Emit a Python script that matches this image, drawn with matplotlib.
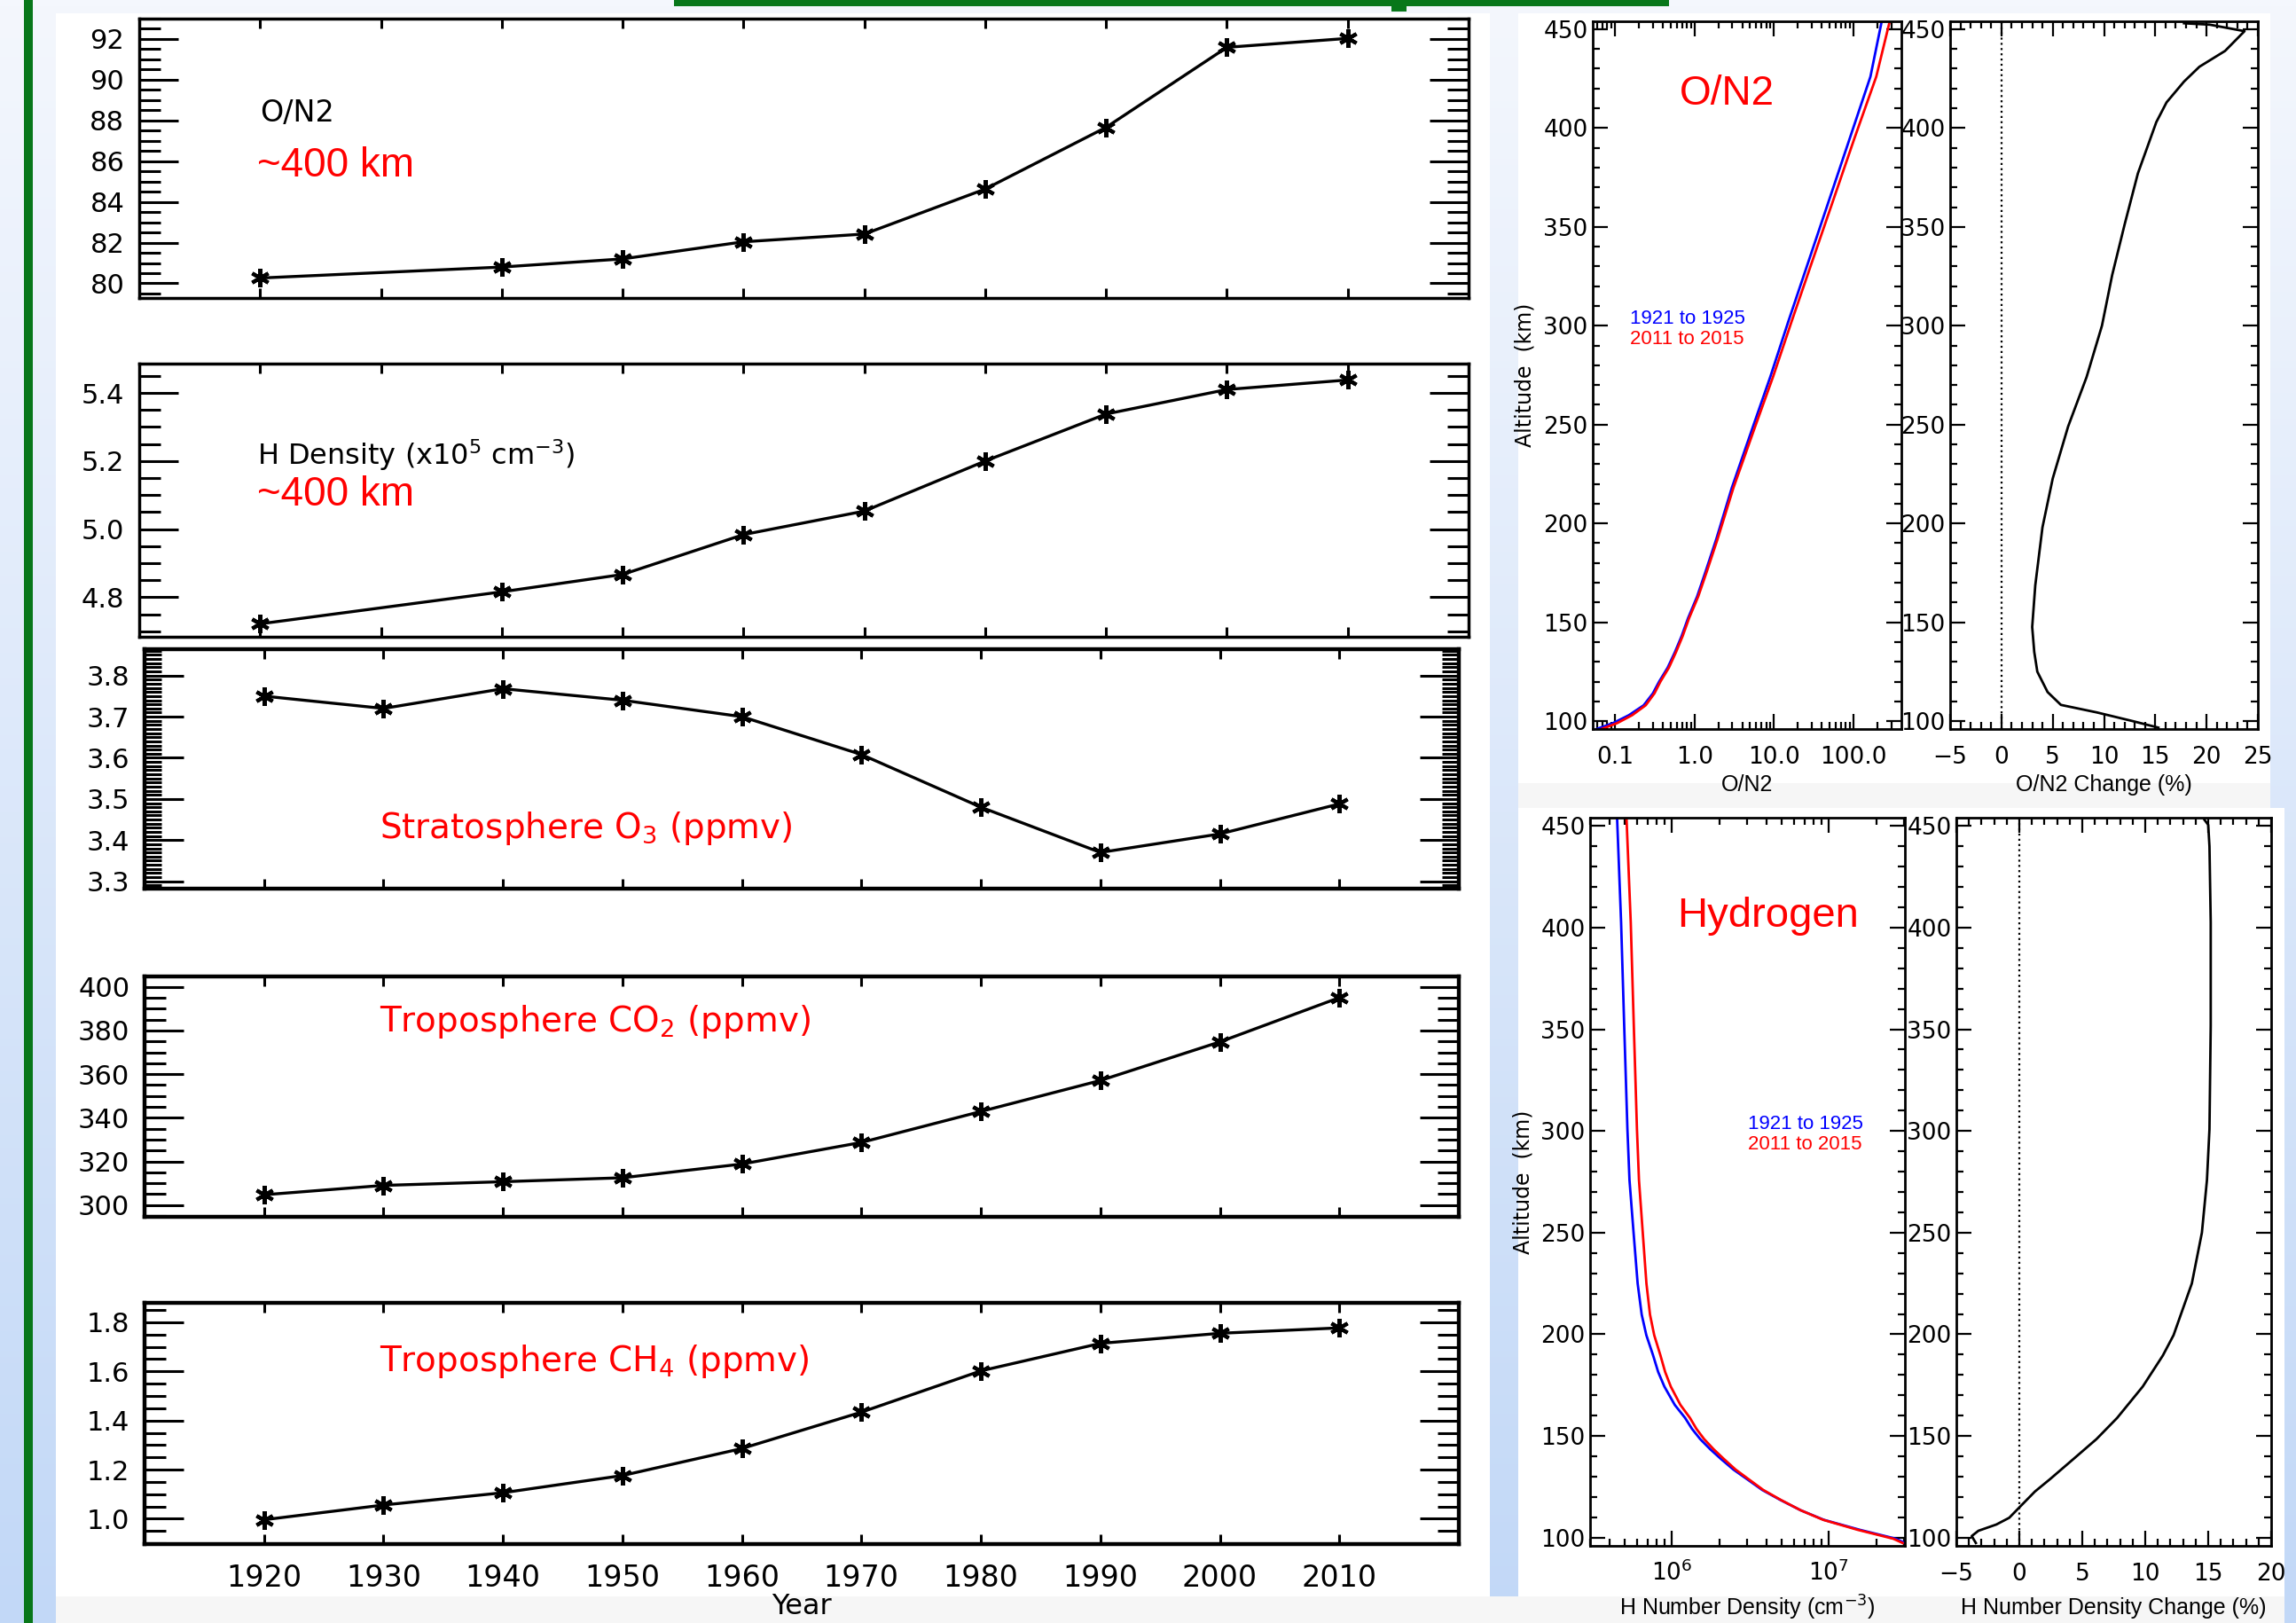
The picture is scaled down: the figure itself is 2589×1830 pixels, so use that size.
import numpy as np
import matplotlib
matplotlib.use('Agg')
import matplotlib.pyplot as plt
from matplotlib.colors import LinearSegmentedColormap
from matplotlib.patches import Rectangle
from matplotlib.ticker import (MultipleLocator, LogLocator, NullFormatter,
                               FuncFormatter, FormatStrFormatter)

# ---------------- data ----------------
years = [1920, 1930, 1940, 1950, 1960, 1970, 1980, 1990, 2000, 2010]
years_thermo = [1920, 1940, 1950, 1960, 1970, 1980, 1990, 2000, 2010]

on2_400km = [80.26, 80.80, 81.20, 82.04, 82.42, 84.63, 87.66, 91.59, 92.03]
h_400km = [4.722, 4.816, 4.867, 4.984, 5.053, 5.200, 5.338, 5.410, 5.438]
o3_strat = [3.750, 3.720, 3.768, 3.740, 3.700, 3.608, 3.480, 3.370, 3.415, 3.488]
co2_trop = [304.7, 309.0, 310.7, 312.5, 318.8, 328.7, 342.9, 357.1, 374.8, 395.1]
ch4_trop = [0.996, 1.056, 1.106, 1.176, 1.286, 1.434, 1.602, 1.714, 1.755, 1.777]

# O/N2 altitude profiles
on2_alt = [96, 99, 103, 108, 114, 120, 127, 135, 143, 152, 163, 176, 192, 218,
           248, 274, 302, 333, 364, 395, 426, 454]
on2_early = [0.059, 0.095, 0.15, 0.23, 0.30, 0.36, 0.46, 0.57, 0.69, 0.83, 1.08,
             1.39, 1.88, 2.95, 5.34, 8.96, 15.1, 27.4, 49.7, 90.0, 163.0, 226.0]
on2_late = [0.068, 0.107, 0.165, 0.244, 0.314, 0.374, 0.477, 0.588, 0.711, 0.855,
            1.115, 1.44, 1.95, 3.09, 5.68, 9.70, 16.6, 30.5, 56.1, 103.0, 193.0,
            285.0]

on2_chg_alt = [96.7, 100, 104.4, 108.2, 114.7, 125, 135, 147.6, 168.7, 198, 222.7,
               249, 274, 300, 325.7, 351, 377, 403, 413, 423.5, 431, 439, 449,
               452.3, 453]
on2_chg = [15.3, 12.8, 9.3, 5.8, 4.5, 3.5, 3.2, 3.0, 3.3, 4.0, 5.0, 6.5, 8.3, 9.8,
           10.8, 12.0, 13.3, 15.1, 16.1, 17.8, 19.3, 21.8, 23.7, 20.3, 17.8]

# Hydrogen altitude profiles
h_alt = [97.4, 99.5, 103.9, 108.8, 113.5, 118.6, 123.5, 128.9, 133.5, 138.7,
         143.5, 148.5, 153.5, 158.9, 165.3, 174.3, 181.5, 189.6, 199.6, 209.7,
         225, 250, 275.8, 300.8, 351.7, 402.5, 453.9]
h_early = [3.05e7, 2.67e7, 1.57e7, 9.27e6, 6.60e6, 4.89e6, 3.75e6, 2.99e6, 2.46e6,
           2.05e6, 1.75e6, 1.51e6, 1.34e6, 1.21e6, 1.04e6, 8.93e5, 8.15e5, 7.57e5,
           6.85e5, 6.40e5, 6.03e5, 5.68e5, 5.35e5, 5.19e5, 4.95e5, 4.73e5, 4.46e5]
h_late = [2.95e7, 2.57e7, 1.52e7, 9.18e6, 6.60e6, 4.93e6, 3.81e6, 3.06e6, 2.54e6,
          2.14e6, 1.84e6, 1.60e6, 1.43e6, 1.30e6, 1.13e6, 9.81e5, 9.03e5, 8.43e5,
          7.69e5, 7.23e5, 6.86e5, 6.50e5, 6.15e5, 5.97e5, 5.70e5, 5.45e5, 5.12e5]

h_chg_alt = [97.4, 100.8, 103.4, 106.5, 109.8, 115, 122.7, 128.9, 138.7, 148.5,
             158.9, 174.3, 189.6, 199.6, 225, 250, 275.8, 300.8, 351.7, 402.5,
             440, 450.5, 453]
h_chg = [-3.45, -3.78, -3.25, -1.82, -0.8, 0.02, 1.24, 2.46, 4.3, 6.13, 7.77, 9.8,
         11.4, 12.25, 13.7, 14.5, 14.9, 15.1, 15.2, 15.2, 15.1, 15.0, 14.7]

# ---------------- figure ----------------
W, H = 2589, 1830
NARROW = ['Liberation Sans Narrow', 'Liberation Sans']
fig = plt.figure(figsize=(W / 100, H / 100), dpi=100)


def px_box(x0, y0, x1, y1):
    # pixel box (top-left origin) -> figure fraction
    return [x0 / W, 1 - y1 / H, (x1 - x0) / W, (y1 - y0) / H]


# slide background
bg = fig.add_axes([0, 0, 1, 1], zorder=-1)
bg.axis('off')
cmap = LinearSegmentedColormap.from_list('slide', ['#f4f7fd', '#c2d8f7'])
bg.imshow(np.linspace(0, 1, 256)[:, None], aspect='auto', cmap=cmap,
          extent=[0, W, H, 0])
bg.set_xlim(0, W)
bg.set_ylim(H, 0)
for (x0, y0, x1, y1, c) in [(63, 15, 1680, 1800, 'white'),
                            (1712, 15, 2560, 883, 'white'),
                            (1712, 883, 2560, 911, '#f6f6f6'),
                            (1712, 911, 2576, 1800, 'white'),
                            (63, 1800, 2576, 1830, '#f6f6f6'),
                            (27, 0, 37, 1830, '#08771a'),
                            (760, 0, 1882, 7, '#08771a'),
                            (1569, 0, 1586, 13, '#08771a')]:
    bg.add_patch(Rectangle((x0, y0), x1 - x0, y1 - y0, color=c, lw=0))


def trend_panel(rect, xs, ys, ylim, major, minor, fmt, frame_lw, minor_len=17):
    ax = fig.add_axes(px_box(*rect))
    ax.plot(xs, ys, color='black', lw=2.4, marker=(6, 2, 0), ms=15, mew=3)
    ax.set_xlim(1910, 2020)
    ax.set_ylim(*ylim)
    ax.set_xticks(years)
    ax.yaxis.set_major_locator(MultipleLocator(major))
    ax.yaxis.set_minor_locator(MultipleLocator(minor))
    ax.yaxis.set_major_formatter(FormatStrFormatter(fmt))
    ax.tick_params(which='both', direction='in', top=True, right=True,
                   labelbottom=False, labelsize=22, width=2.2, pad=12)
    ax.tick_params(axis='y', which='major', length=32)
    ax.tick_params(axis='y', which='minor', length=minor_len)
    ax.tick_params(axis='x', which='major', length=8)
    for s in ax.spines.values():
        s.set_linewidth(frame_lw)
    return ax


ax1 = trend_panel((157, 21, 1656, 336), years_thermo, on2_400km, (79.28, 93.0),
                  2, 0.5, '%d', 2.5)
ax1.text(0.091, 0.663, 'O/N2', transform=ax1.transAxes, fontsize=24, va='center')
ax1.text(0.089, 0.473, '~400 km', transform=ax1.transAxes, fontsize=33,
         color='red', va='center', family='Liberation Sans')

ax2 = trend_panel((157, 410, 1656, 718), years_thermo, h_400km, (4.684, 5.486),
                  0.2, 0.05, '%.1f', 2.5)
ax2.text(0.089, 0.666, 'H Density (x10$^5$ cm$^{-3}$)', transform=ax2.transAxes,
         fontsize=23, va='center')
ax2.text(0.089, 0.519, '~400 km', transform=ax2.transAxes, fontsize=33,
         color='red', va='center', family='Liberation Sans')

ax3 = trend_panel((163, 732, 1645, 1002), years, o3_strat, (3.282, 3.864),
                  0.1, 0.01, '%.1f', 3.2, minor_len=14)
ax3.text(0.179, 0.252, 'Stratosphere O$_3$ (ppmv)', transform=ax3.transAxes,
         fontsize=28, color='red', va='center')

ax4 = trend_panel((163, 1101, 1645, 1372), years, co2_trop, (294.6, 404.8),
                  20, 5, '%d', 3.2)
ax4.text(0.179, 0.812, 'Troposphere CO$_2$ (ppmv)', transform=ax4.transAxes,
         fontsize=28, color='red', va='center')

ax5 = trend_panel((163, 1469, 1645, 1741), years, ch4_trop, (0.897, 1.879),
                  0.2, 0.05, '%.1f', 3.2)
ax5.text(0.179, 0.757, 'Troposphere CH$_4$ (ppmv)', transform=ax5.transAxes,
         fontsize=28, color='red', va='center')
ax5.tick_params(axis='x', labelbottom=True, labelsize=24, pad=16)
fig.text(904 / W, 1 - 1796 / H, 'Year', ha='center', va='top', fontsize=23)


def alt_panel(rect):
    ax = fig.add_axes(px_box(*rect))
    ax.set_ylim(96, 454)
    ax.yaxis.set_major_locator(MultipleLocator(50))
    ax.yaxis.set_minor_locator(MultipleLocator(10))
    ax.tick_params(which='both', direction='in', top=True, right=True,
                   width=1.6, labelsize=19, labelfontfamily=NARROW[0])
    ax.tick_params(which='major', length=12)
    ax.tick_params(which='minor', length=6)
    ax.tick_params(axis='y', pad=4)
    for s in ax.spines.values():
        s.set_linewidth(2)
    return ax


# O/N2 profiles
axa = alt_panel((1796, 24, 2144, 822))
axa.plot(on2_early, on2_alt, color='blue', lw=2)
axa.plot(on2_late, on2_alt, color='red', lw=2)
axa.set_xscale('log')
axa.set_xlim(0.0527, 399)
axa.xaxis.set_major_locator(LogLocator(base=10))
axa.xaxis.set_minor_locator(LogLocator(base=10, subs=range(2, 10)))
axa.xaxis.set_major_formatter(FuncFormatter(lambda v, p: f'{v:.1f}'))
axa.xaxis.set_minor_formatter(NullFormatter())
axa.tick_params(axis='x', pad=14)
axa.text(0.434, 0.897, 'O/N2', transform=axa.transAxes, fontsize=33,
         color='red', ha='center', va='center', family='Liberation Sans')
axa.text(0.121, 0.579, '1921 to 1925', transform=axa.transAxes, fontsize=16,
         color='blue', va='center', family=NARROW)
axa.text(0.121, 0.551, '2011 to 2015', transform=axa.transAxes, fontsize=16,
         color='red', va='center', family=NARROW)
axa.text(0.5, -0.079, 'O/N2', transform=axa.transAxes, fontsize=18,
         ha='center', va='center', family=NARROW)
axa.set_ylabel('Altitude  (km)', fontsize=17)
axa.yaxis.set_label_coords(-0.184, 0.5)

axb = alt_panel((2199, 24, 2546, 822))
axb.plot(on2_chg, on2_chg_alt, color='black', lw=2)
axb.axvline(0, color='black', ls=':', lw=1.6)
axb.set_xlim(-5, 25)
axb.xaxis.set_major_locator(MultipleLocator(5))
axb.xaxis.set_minor_locator(MultipleLocator(1))
axb.tick_params(axis='x', pad=14)
axb.text(0.5, -0.079, 'O/N2 Change (%)', transform=axb.transAxes, fontsize=18,
         ha='center', va='center', family=NARROW)

# Hydrogen profiles
axc = alt_panel((1793, 922, 2148, 1743))
axc.plot(h_early, h_alt, color='blue', lw=2)
axc.plot(h_late, h_alt, color='red', lw=2)
axc.set_xscale('log')
axc.set_xlim(3.0e5, 3.05e7)
axc.xaxis.set_major_locator(LogLocator(base=10))
axc.xaxis.set_minor_locator(LogLocator(base=10, subs=range(2, 10)))
axc.xaxis.set_minor_formatter(NullFormatter())
axc.tick_params(axis='x', pad=12)
axc.text(0.566, 0.865, 'Hydrogen', transform=axc.transAxes, fontsize=34,
         color='red', ha='center', va='center', family='Liberation Sans')
axc.text(0.501, 0.579, '1921 to 1925', transform=axc.transAxes, fontsize=16,
         color='blue', va='center', family=NARROW)
axc.text(0.501, 0.551, '2011 to 2015', transform=axc.transAxes, fontsize=16,
         color='red', va='center', family=NARROW)
axc.text(0.5, -0.085, 'H Number Density (cm$^{-3}$)', transform=axc.transAxes,
         fontsize=18, ha='center', va='center', family=NARROW)
axc.set_ylabel('Altitude  (km)', fontsize=17)
axc.yaxis.set_label_coords(-0.18, 0.5)

axd = alt_panel((2206, 922, 2561, 1743))
axd.plot(h_chg, h_chg_alt, color='black', lw=2)
axd.axvline(0, color='black', ls=':', lw=1.6)
axd.set_xlim(-5, 20)
axd.xaxis.set_major_locator(MultipleLocator(5))
axd.xaxis.set_minor_locator(MultipleLocator(1))
axd.tick_params(axis='x', pad=14)
axd.text(0.5, -0.085, 'H Number Density Change (%)', transform=axd.transAxes,
         fontsize=18, ha='center', va='center', family=NARROW)

fig.savefig('out.png', dpi=100)
